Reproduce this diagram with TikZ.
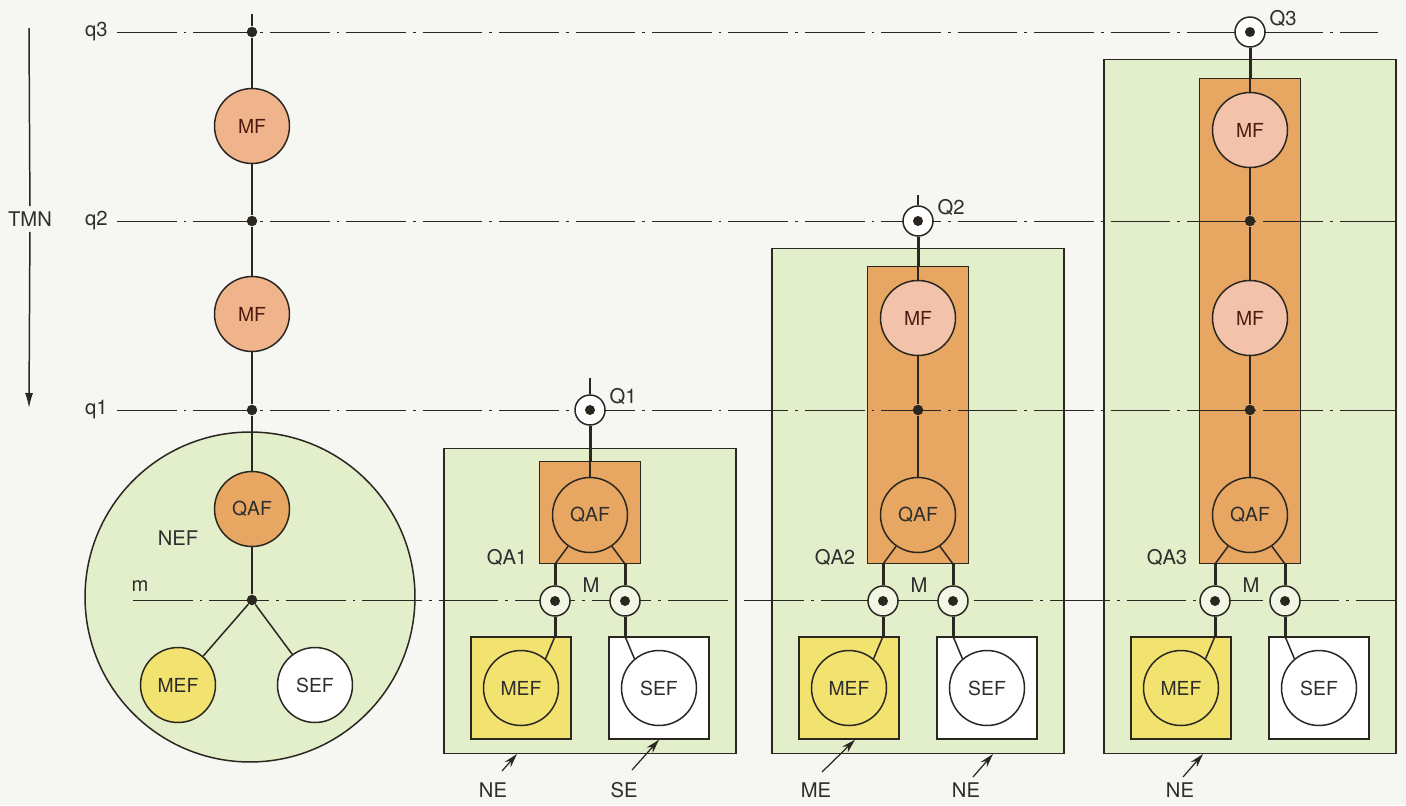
\documentclass[tikz,border=0pt]{standalone}
\usepackage{fontspec}
\setmainfont{TeX Gyre Heros}
\usetikzlibrary{arrows.meta,calc}
\definecolor{Paper}{HTML}{F6F7F3}
\definecolor{Leaf}{HTML}{E3EECB}
\definecolor{Amber}{HTML}{E7A763}
\definecolor{Peach}{HTML}{F0B48C}
\definecolor{Blush}{HTML}{F2C3AA}
\definecolor{Lemon}{HTML}{F2E270}
\definecolor{Ink}{HTML}{2A2620}
\definecolor{Label}{HTML}{2E2E2E}
\definecolor{Rust}{HTML}{4E1A10}

\begin{document}
\begin{tikzpicture}[x=0.02cm,y=-0.02cm,
  fn/.style={circle,draw=Ink,line width=0.85pt,minimum size=1.5cm,inner sep=0pt,font=\fontsize{11}{12}\selectfont,text=Label},
  mf/.style={fn,text=Rust},
  lbl/.style={font=\fontsize{11.5}{13}\selectfont,text=Label,inner sep=1pt},
  axis/.style={draw=Ink,line width=0.55pt,dash pattern=on 34pt off 4pt on 1.5pt off 4pt},
  link/.style={draw=Ink,line width=0.85pt},
  bus/.style={draw=Ink,line width=1.7pt},
  jn/.style={circle,fill=Ink,minimum size=0.21cm,inner sep=0pt},
  port/.style={circle,draw=Ink,line width=0.85pt,fill=white,minimum size=0.6cm,inner sep=0pt,
    path picture={\fill[Ink] (path picture bounding box.center) circle (0.1cm);}},
  area/.style={draw=Ink,line width=0.85pt,anchor=south},
  box/.style={draw=Ink,line width=0.85pt,minimum width=2cm,minimum height=2.04cm},
  pointer/.style={draw=Ink,line width=0.7pt,-{Stealth[length=2.8mm,width=1.6mm]}}
]
\fill[Paper] (0,0) rectangle (1406,805);
\useasboundingbox (0,0) rectangle (1406,805);

% areas
\node[circle,draw=Ink,line width=0.85pt,fill=Leaf,minimum size=6.6cm] (nef) at (250,597) {};
\foreach \g/\cx/\gh/\oh in {1/590/6.1/2.04,2/918/10.1/5.94,3/1250/13.88/9.7}{
  \node[area,fill=Leaf,minimum width=5.84cm,minimum height=\gh cm] (g\g) at (\cx,754) {};
  \node[area,fill=Amber,minimum width=2.02cm,minimum height=\oh cm] (ora\g) at (\cx,564) {};
}

% levels
\node[lbl,inner ysep=3pt] (tmn) at (30,219) {TMN};
\coordinate (ttop) at (29,28);
\coordinate (tbot) at (29,408);
\draw[link] (ttop) -- (tmn);
\draw[link,-{Latex[length=3mm,width=1.6mm]}] (tmn) -- (tbot);
\node[lbl,anchor=east,inner xsep=0.18cm] (lq3) at (117,32) {q3};
\node[lbl,anchor=east,inner xsep=0.18cm] (lq2) at (117,221) {q2};
\node[lbl,anchor=east,inner xsep=0.18cm] (lq1) at (117,410) {q1};
\node[lbl] (lm) at (140,586) {m};
\coordinate (q3e) at (1378,32);
\coordinate (q2e) at (1397,221);
\coordinate (q1e) at (1397,410);
\coordinate (m0) at (133,600);
\coordinate (me) at (1397,600);
\draw[axis] (lq3) -- (q3e);
\draw[axis] (lq2) -- (q2e);
\draw[axis] (lq1) -- (q1e);
\draw[axis] (m0) -- (me);

% left column
\coordinate (atop) at (252,14);
\node[jn] (a3) at (252,32) {};
\node[mf,fill=Peach] (amf1) at (252,126) {MF};
\node[jn] (a2) at (252,221) {};
\node[mf,fill=Peach] (amf2) at (252,314) {MF};
\node[jn] (a1) at (252,410) {};
\node[fn,fill=Amber] (aqaf) at (252,509) {QAF};
\node[jn] (am) at (252,600) {};
\node[fn,fill=Lemon] (amef) at (178,685) {MEF};
\node[fn,fill=white] (asef) at (315,685) {SEF};
\node[lbl] (lnef) at (178,538) {NEF};
\foreach \a/\b in {atop/a3,a3/amf1,amf1/a2,a2/amf2,amf2/a1,a1/aqaf,aqaf/am,am/amef,am/asef}{\draw[link] (\a) -- (\b);}

% groups
\foreach \g/\cx/\qy in {1/590/410,2/918/221,3/1250/32}{
  \node[port] (Q\g) at (\cx,\qy) {};
  \node[lbl] (lQ\g) at (\cx+33,\qy-14) {Q\g};
  \node[fn,fill=Amber] (qaf\g) at (\cx,515) {QAF};
  \node[lbl] (lqa\g) at (\cx-83,557) {QA\g};
  \node[port,fill=Leaf!50!white] (ml\g) at (\cx-35,601) {};
  \node[port,fill=Leaf!50!white] (mr\g) at (\cx+35,601) {};
  \node[lbl] (lM\g) at (\cx+1,585) {M};
  \node[box,fill=Lemon] (mefb\g) at (\cx-69,688) {};
  \node[box,fill=white] (sefb\g) at (\cx+69,688) {};
  \node[fn,fill=Lemon] (mef\g) at (mefb\g) {MEF};
  \node[fn,fill=white] (sef\g) at (sefb\g) {SEF};
  \draw[bus] (Q\g) -- (Q\g |- ora\g.north);
  \draw[link] (qaf\g.235) -- (ml\g |- ora\g.south);
  \draw[link] (qaf\g.-55) -- (mr\g |- ora\g.south);
  \draw[bus] (ml\g |- ora\g.south) -- (ml\g);
  \draw[bus] (mr\g |- ora\g.south) -- (mr\g);
  \draw[bus] (ml\g) -- (ml\g |- mefb\g.north);
  \draw[bus] (mr\g) -- (mr\g |- sefb\g.north);
  \draw[link] (ml\g |- mefb\g.north) -- (mef\g.50);
  \draw[link] (mr\g |- sefb\g.north) -- (sef\g.130);
}
\coordinate (Q1t) at (590,378);
\coordinate (Q2t) at (918,195);
\draw[link] (Q1t) -- (Q1);
\draw[link] (Q2t) -- (Q2);

\draw[link] (Q1 |- ora1.north) -- (qaf1);

\node[mf,fill=Blush] (mf21) at (918,318) {MF};
\node[jn] (d21) at (918,410) {};
\draw[link] (Q2 |- ora2.north) -- (mf21) -- (d21) -- (qaf2);

\node[mf,fill=Blush] (mf31) at (1250,130) {MF};
\node[jn] (d32) at (1250,221) {};
\node[mf,fill=Blush] (mf32) at (1250,318) {MF};
\node[jn] (d31) at (1250,410) {};
\draw[link] (Q3 |- ora3.north) -- (mf31) -- (d32) -- (mf32) -- (d31) -- (qaf3);

% pointers
\node[lbl] (ne1) at (493,790) {NE};
\node[lbl] (se1) at (624,790) {SE};
\node[lbl] (me2) at (816,790) {ME};
\node[lbl] (ne2) at (966,790) {NE};
\node[lbl] (ne3) at (1180,790) {NE};
\draw[pointer] ([shift={(9,-19)}]ne1.center) -- ([xshift=-1.46cm]g1.south);
\draw[pointer] ([shift={(8,-20)}]se1.center) -- (sefb1.south);
\draw[pointer] ([shift={(6,-18)}]me2.center) -- ([xshift=0.12cm]mefb2.south);
\draw[pointer] ([shift={(7,-13)}]ne2.center) -- ([xshift=1.5cm]g2.south);
\draw[pointer] ([shift={(3,-13)}]ne3.center) -- ([xshift=-0.94cm]g3.south);
\end{tikzpicture}
\end{document}
